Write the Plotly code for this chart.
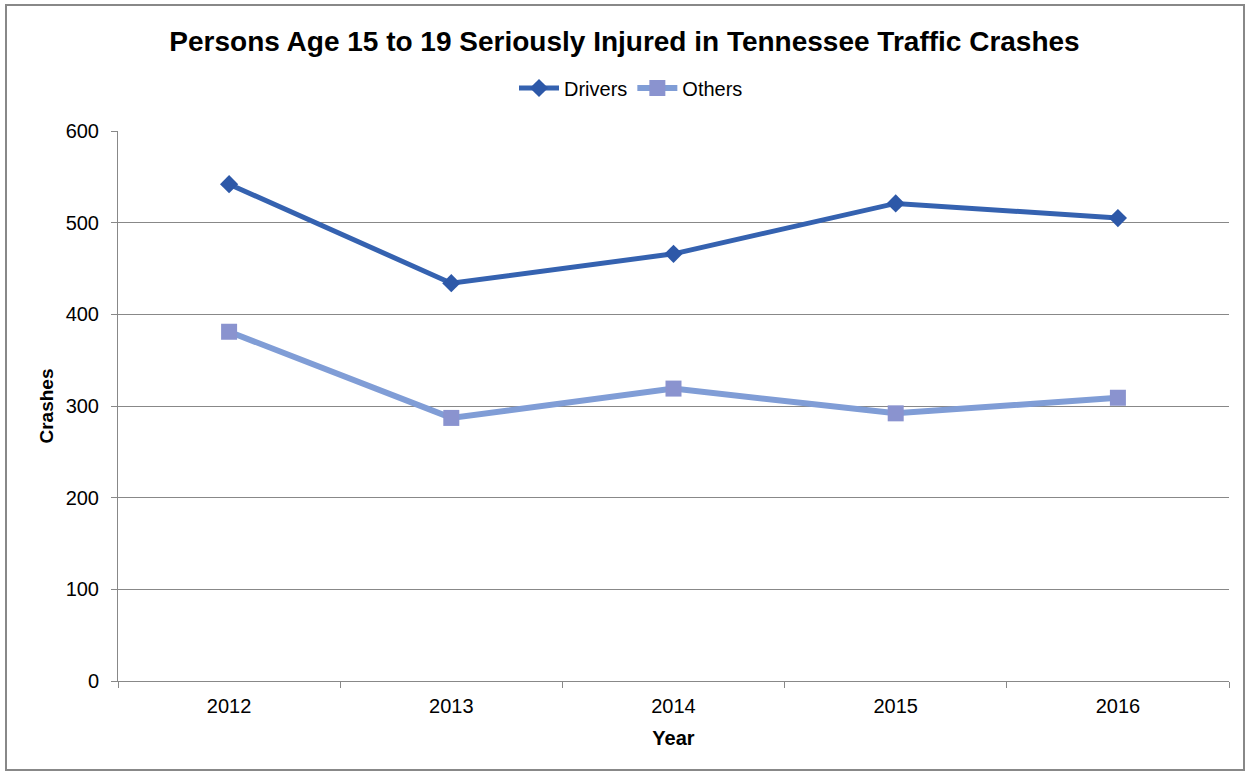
import plotly.graph_objects as go

years = ["2012", "2013", "2014", "2015", "2016"]
drivers = [542, 434, 466, 521, 505]
others = [381, 287, 319, 292, 309]

W, H = 1249, 774
L, R, T, B = 118, 20, 131, 93
pw, ph = W - L - R, H - T - B

def px(x):
    return (x - L) / pw

def py(y):
    return (H - B - y) / ph

fig = go.Figure()
fig.add_trace(go.Scatter(
    x=years, y=others, name="Others", mode="lines+markers",
    line=dict(color="#809dd6", width=6),
    marker=dict(symbol="square", size=16, color="#8a93cf"),
))
fig.add_trace(go.Scatter(
    x=years, y=drivers, name="Drivers", mode="lines+markers",
    line=dict(color="#3562b0", width=5),
    marker=dict(symbol="diamond", size=14, color="#2d58a8"),
))

fig.update_layout(
    width=W, height=H,
    margin=dict(l=L, r=R, t=T, b=B),
    paper_bgcolor="white", plot_bgcolor="white",
    font=dict(family="Liberation Sans, Arial", size=20, color="#000"),
    title=dict(
        text="<b>Persons Age 15 to 19 Seriously Injured in Tennessee Traffic Crashes</b>",
        x=0.5, xanchor="center", y=1 - 41 / H, yanchor="middle",
        font=dict(size=28, color="#000"),
    ),
    legend=dict(
        orientation="h", x=px(631), xanchor="center", y=py(88), yanchor="middle",
        font=dict(size=20), traceorder="reversed", itemwidth=40,
        bgcolor="rgba(0,0,0,0)",
    ),
    xaxis=dict(
        type="category", range=[-0.5, 4.5],
        tickson="boundaries", ticks="outside", ticklen=6, tickcolor="#888",
        showline=True, linecolor="#888", linewidth=1,
        showgrid=False, tickfont=dict(size=20), ticklabelstandoff=7,
        title=dict(text="<b>Year</b>", font=dict(size=20), standoff=14),
    ),
    yaxis=dict(
        range=[0, 600], dtick=100, tick0=0,
        ticks="outside", ticklen=6, tickcolor="#888",
        showline=True, linecolor="#888", linewidth=1,
        showgrid=True, gridcolor="#888", gridwidth=1,
        zeroline=False, tickfont=dict(size=20), ticklabelstandoff=8,
        title=dict(text="<b>Crashes</b>", font=dict(size=19), standoff=6),
    ),
    shapes=[dict(
        type="rect", xref="paper", yref="paper",
        x0=px(6), x1=px(1244), y0=py(770), y1=py(5),
        line=dict(color="#888", width=2), fillcolor="rgba(0,0,0,0)", layer="below",
    )],
)

fig.write_html("out.html")
